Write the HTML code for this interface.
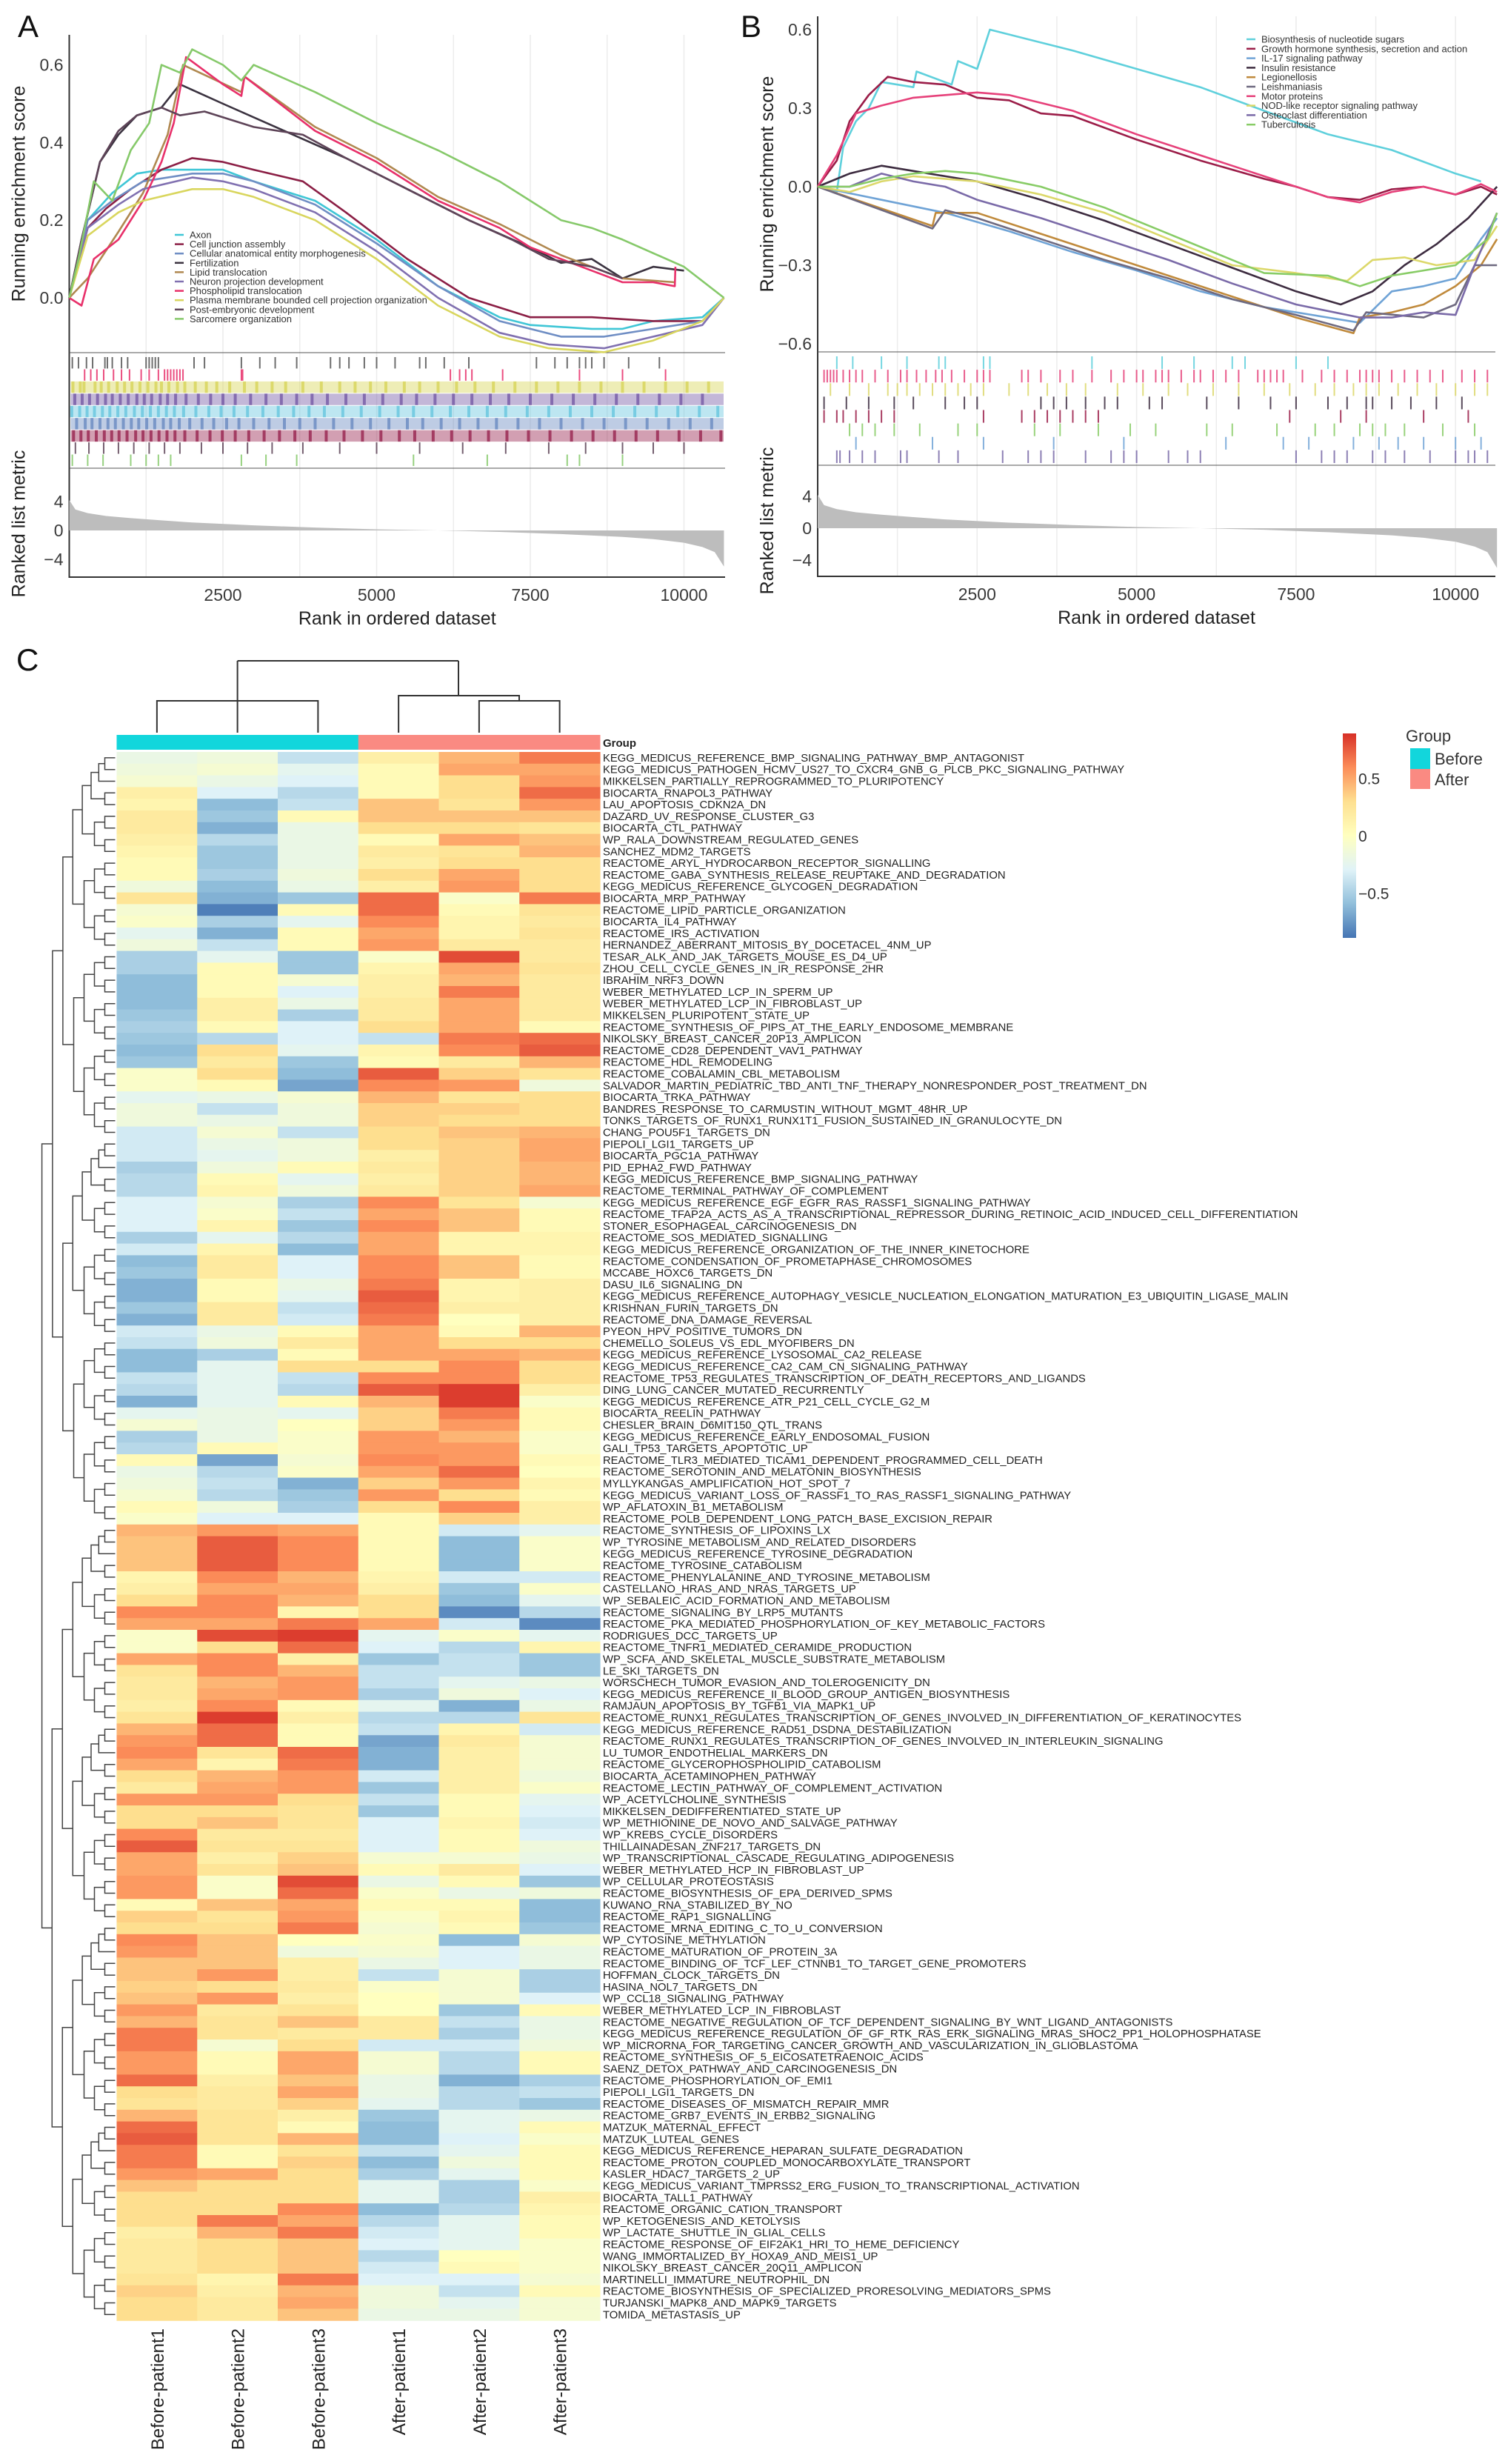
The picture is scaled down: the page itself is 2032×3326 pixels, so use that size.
<!DOCTYPE html>
<html><head><meta charset="utf-8"><style>
html,body{margin:0;padding:0;background:#fff;}
svg{display:block;font-family:"Liberation Sans",Arial,sans-serif;}
</style></head>
<body>
<svg id="fig" xmlns="http://www.w3.org/2000/svg" width="2032" height="3326" viewBox="0 0 2032 3326">
<defs>
<linearGradient id="cbgrad" x1="0" y1="1" x2="0" y2="0">
<stop offset="0" stop-color="#4575B4"/><stop offset="0.1667" stop-color="#91BFDB"/><stop offset="0.3333" stop-color="#E0F3F8"/><stop offset="0.5" stop-color="#FFFFBF"/><stop offset="0.6667" stop-color="#FEE090"/><stop offset="0.8333" stop-color="#FC8D59"/><stop offset="1" stop-color="#D73027"/>
</linearGradient>
</defs>
<rect x="0" y="0" width="2032" height="3326" fill="#fff"/>
<text x="24" y="50" font-size="42" fill="#111">A</text>
<text x="1000" y="50" font-size="42" fill="#111">B</text>
<text x="22" y="905" font-size="42" fill="#111">C</text>
<g id="gA"></g>
<g id="gB"></g>
<g id="gC"></g>
</svg>
<script>
// ================= DATA: Panel A =================
const aSeriesNames=["Axon","Cell junction assembly","Cellular anatomical entity morphogenesis","Fertilization","Lipid translocation","Neuron projection development","Phospholipid translocation","Plasma membrane bounded cell projection organization","Post-embryonic development","Sarcomere organization"];
const aSeriesColors=["#3fc6d6","#8b1f45","#6f8ec4","#3b3340","#b08850","#8070b0","#e8306a","#d9d65e","#5e4458","#86c96a"];
const aRanks=[
[0,300,700,1100,1500,2000,2500,3000,4000,5000,6000,7000,7500,8500,9000,9500,10300,10650],
[0,300,600,1000,1500,2000,2500,3000,3800,4500,5500,6500,7500,8500,9500,10300,10650],
[0,300,700,1200,2000,2500,3000,4000,5000,6000,7000,8000,8700,9500,10300,10650],
[0,200,500,800,1100,1500,1800,2500,3500,4500,5500,6500,7500,8000,8500,9000,9500,10000],
[0,300,800,1200,1600,1850,2800,2850,4000,5000,6000,7000,8000,9000,9850],
[0,300,800,1200,2000,2500,3000,4000,5000,6000,7000,7800,8700,9500,10300,10650],
[0,200,400,800,1200,1500,1700,1900,2500,2800,2850,4000,5000,6000,7000,7500,8000,8500,9000,9500,9850,9860],
[0,300,800,1200,2000,2500,3000,4000,5000,6000,7000,7800,8700,9500,10300,10650],
[0,200,500,800,1100,1500,1800,2200,3000,3800,4500,5500,6500,7200,7800,8500,9000],
[0,150,400,700,1000,1300,1500,1800,2000,2500,2800,3000,4000,5000,6000,7000,7500,8000,8500,9000,10000,10650]
];
const aScores=[
[0,0.2,0.27,0.32,0.33,0.33,0.33,0.3,0.25,0.15,0.03,-0.05,-0.07,-0.08,-0.08,-0.06,-0.05,0],
[0,0.18,0.23,0.28,0.33,0.36,0.35,0.33,0.3,0.22,0.1,0,-0.05,-0.05,-0.06,-0.06,0],
[0,0.2,0.25,0.3,0.32,0.32,0.3,0.24,0.14,0.03,-0.06,-0.1,-0.1,-0.08,-0.06,0],
[0,0.15,0.35,0.42,0.47,0.49,0.55,0.5,0.43,0.36,0.28,0.2,0.13,0.09,0.1,0.05,0.08,0.07],
[0,0.05,0.17,0.27,0.42,0.6,0.53,0.57,0.44,0.36,0.26,0.19,0.11,0.05,0.04],
[0,0.18,0.24,0.28,0.31,0.3,0.28,0.22,0.12,0,-0.09,-0.12,-0.13,-0.1,-0.07,0],
[0,-0.02,0.1,0.15,0.25,0.35,0.45,0.62,0.55,0.52,0.57,0.43,0.35,0.25,0.18,0.13,0.1,0.07,0.04,0.04,0.03,0.08],
[0,0.16,0.22,0.25,0.28,0.28,0.26,0.2,0.1,-0.02,-0.1,-0.13,-0.14,-0.11,-0.06,0],
[0,0.15,0.35,0.43,0.47,0.49,0.47,0.48,0.44,0.42,0.36,0.28,0.2,0.15,0.1,0.08,0.05],
[0,0.1,0.3,0.25,0.38,0.45,0.6,0.58,0.64,0.6,0.56,0.6,0.53,0.45,0.38,0.3,0.25,0.2,0.18,0.15,0.08,0]
];
const aEsTicks=[0,0.2,0.4,0.6];
const aEsTickLabels=["0.0","0.2","0.4","0.6"];
const aRugColors=["#555","#e8306a","#d9d65e","#7a5fa8","#6cc8e0","#6f8ec4","#9b2b55","#5e4458","#86c96a"];
const aRugDense=[false,false,true,true,true,true,true,false,false];
const aRugHits=[
[50,150,280,380,580,620,700,850,950,1250,1300,1350,1400,1450,2030,2200,2800,3100,3350,3700,4250,4400,4550,4800,5000,5300,5700,5800,6100,6500,7600,7900,8100,8300,8400,8500,8700,9100,9600],
[250,350,450,560,720,850,980,1170,1300,1450,1550,1600,1650,1700,1750,1800,1850,2800,2820,6200,6350,6450,6550,7050,8300,9000,9700],
[60,180,240,420,520,640,780,900,1020,1150,1280,1410,1500,1620,1760,1880,2050,2230,2400,2610,2850,3050,3300,3520,3800,4100,4400,4650,4900,5150,5450,5700,6000,6300,6600,6900,7250,7600,7950,8300,8650,9000,9350,9700,10050,10400],
[90,210,330,460,590,700,830,960,1100,1220,1340,1480,1600,1730,1900,2100,2300,2500,2700,2950,3200,3450,3700,3950,4200,4500,4800,5100,5400,5650,5950,6250,6550,6850,7150,7500,7850,8200,8550,8900,9250,9600,9950,10300],
[40,170,290,410,540,660,790,920,1060,1190,1320,1450,1580,1710,1860,2060,2270,2470,2680,2900,3150,3400,3650,3900,4150,4450,4750,5050,5350,5600,5900,6200,6500,6800,7100,7450,7800,8150,8500,8850,9200,9550,9900,10250,10550],
[120,260,370,500,630,750,880,1010,1130,1260,1390,1530,1650,1790,1960,2160,2350,2560,2760,3000,3250,3500,3750,4000,4300,4600,4900,5200,5500,5750,6050,6350,6650,6950,7300,7650,8000,8350,8700,9050,9400,9750,10100,10450],
[70,190,310,440,570,690,810,940,1080,1200,1330,1460,1590,1720,1880,2080,2290,2490,2700,2920,3170,3420,3670,3920,4180,4470,4770,5070,5370,5620,5920,6220,6520,6820,7120,7470,7820,8170,8520,8870,9220,9570,9920,10270,10600],
[100,320,560,800,1050,1300,1550,1800,2150,2500,2900,3300,3800,4400,5000,5700,6400,7100,7800,8400,9000,9500,10000],
[50,300,550,1000,1250,1450,1650,2800,3200,3700,5600,6800,8100,8300,9000]
];
// ================= DATA: Panel B =================
const bSeriesNames=["Biosynthesis of nucleotide sugars","Growth hormone synthesis, secretion and action","IL-17 signaling pathway","Insulin resistance","Legionellosis","Leishmaniasis","Motor proteins","NOD-like receptor signaling pathway","Osteoclast differentiation","Tuberculosis"];
const bSeriesColors=["#5fd0dc","#9b1d48","#6fa3d6","#3d2c40","#c08a3c","#6f6a80","#e6417a","#dcd86a","#7a6aa8","#88cc66"];
const bRanks=[
[0,300,400,600,800,1000,1500,1550,2100,2200,2500,2700,4000,5000,6000,7000,8000,9000,10000,10400],
[0,300,500,800,1100,1500,2000,2500,3000,3500,4000,5000,6000,7000,7500,8000,8500,9000,9500,10000,10400,10650],
[0,600,1000,2000,3000,4000,5000,6000,7000,8000,8500,9000,9500,10000,10400,10650],
[0,500,1000,1500,2000,2500,3500,4500,5500,6500,7500,8200,8700,9200,9700,10200,10650],
[0,1800,1850,2500,3500,4500,5500,6500,7500,8400,8500,9000,9500,10000,10400,10650],
[0,1800,2000,2500,3500,4500,5500,6500,7500,8400,8600,9500,10000,10300,10650],
[0,300,600,1000,1500,2000,2500,3000,3500,4000,5000,6000,7000,8000,8500,9000,9500,10000,10400,10650],
[0,500,1000,1500,2000,2500,3500,4500,5500,6500,7500,8300,8700,9200,9700,10300,10650],
[0,500,1000,1500,2000,2500,3500,4500,5500,6500,7500,8500,9000,9500,10000,10300,10650],
[0,500,1000,1500,2000,2500,3500,4500,5500,6500,7000,8000,8500,9000,9500,10000,10500,10650]
];
const bScores=[
[0,-0.02,0.15,0.25,0.3,0.4,0.38,0.44,0.39,0.48,0.45,0.6,0.52,0.45,0.38,0.29,0.2,0.14,0.05,0.02],
[0,0.1,0.25,0.35,0.42,0.4,0.39,0.34,0.33,0.28,0.27,0.18,0.1,0.03,0,-0.04,-0.05,-0.01,0,-0.03,0,-0.03],
[0,-0.03,-0.05,-0.1,-0.17,-0.25,-0.32,-0.4,-0.46,-0.5,-0.52,-0.4,-0.38,-0.35,-0.2,-0.12],
[0,0.05,0.08,0.06,0.04,0.02,-0.05,-0.13,-0.22,-0.31,-0.4,-0.45,-0.4,-0.3,-0.22,-0.12,0],
[0,-0.15,-0.1,-0.1,-0.18,-0.26,-0.34,-0.42,-0.5,-0.56,-0.5,-0.48,-0.45,-0.38,-0.3,-0.2],
[0,-0.16,-0.09,-0.12,-0.2,-0.28,-0.35,-0.43,-0.49,-0.55,-0.48,-0.5,-0.45,-0.3,-0.3],
[0,0.12,0.28,0.31,0.34,0.35,0.36,0.35,0.32,0.29,0.2,0.12,0.04,-0.04,-0.06,-0.02,0,-0.03,0.01,-0.02],
[0,-0.02,0.02,0.04,0.03,0.02,-0.03,-0.1,-0.2,-0.3,-0.33,-0.36,-0.28,-0.27,-0.3,-0.28,-0.15],
[0,0,0.05,0.02,0,-0.05,-0.12,-0.2,-0.28,-0.37,-0.45,-0.5,-0.5,-0.48,-0.49,-0.3,-0.1],
[0,0,0.03,0.05,0.06,0.05,0,-0.08,-0.18,-0.28,-0.33,-0.34,-0.38,-0.34,-0.32,-0.3,-0.2,-0.1]
];
const bEsTicks=[-0.6,-0.3,0,0.3,0.6];
const bEsTickLabels=["\u22120.6","\u22120.3","0.0","0.3","0.6"];
const bRugColors=["#5fd0dc","#e6417a","#dcd86a","#3d2c40","#9b1d48","#88cc66","#6fa3d6","#7a6aa8"];
const bRugDense=[false,false,false,false,false,false,false,false];
const bRugHits=[
[300,550,1000,1400,1900,2000,2600,2700,4300,5400,5900,6500,6700,7500,8000],
[100,150,200,250,300,400,500,600,700,900,1100,1300,1400,1550,1700,1850,1950,2100,2300,2500,2600,2700,3200,3300,3500,3800,4000,4300,4600,4800,5000,5100,5300,5400,5500,5700,5900,6000,6200,6400,6600,6900,7000,7100,7200,7300,7600,7900,8100,8300,8500,8600,8700,8800,9000,9200,9400,9600,9800,10100,10300,10500],
[200,500,800,1100,1250,1400,1600,1800,2000,2200,2400,2600,3000,3300,3600,3900,4200,4700,5100,5500,5800,6200,6600,7000,7400,7800,8100,8400,8600,8800,9100,9400,9700,10000,10300,10500],
[100,450,800,1200,1500,2000,2300,2500,3500,3700,3900,4200,4500,4700,5200,5400,6100,6600,7100,7500,8000,8300,8600,8700,9000,9300,9700,10100],
[100,300,400,600,800,1000,1200,2600,3200,3400,3600,3800,4000,4200,4400,7400,8200,8600,9500,10200],
[500,700,900,1200,1600,2200,2500,3400,3800,4400,4900,5300,6100,6500,7200,7800,8100,8500,8700,8900,9200,9800,10300],
[600,1800,2600,3700,4800,6400,7300,7700,8400,8800,9100,9500,10000,10400],
[300,350,500,700,900,1300,1400,1900,2200,2900,3300,3500,3700,4200,4600,4800,5000,5500,5800,6000,7500,7900,8100,8300,8700,8900,9200,9600,10000,10200,10300,10500]
];
const metricRanks=[0,100,300,600,1000,1500,2000,3000,4000,5000,6000,7000,8000,9000,9500,10000,10300,10500,10650];
const metricValues=[4.2,2.9,2.4,2.0,1.7,1.4,1.1,0.7,0.4,0.15,0,-0.2,-0.5,-0.9,-1.2,-1.7,-2.3,-3,-5];
const metricTicks=[-4,0,4];
const metricTickLabels=["\u22124","0","4"];
const rankTicks=[2500,5000,7500,10000];
const rankTickLabels=["2500","5000","7500","10000"];

// ================= DATA: Panel C heatmap =================
const colLabels=["Before-patient1","Before-patient2","Before-patient3","After-patient1","After-patient2","After-patient3"];
const colGroups=["Before","Before","Before","After","After","After"];
const rowLabels=["KEGG_MEDICUS_REFERENCE_BMP_SIGNALING_PATHWAY_BMP_ANTAGONIST","KEGG_MEDICUS_PATHOGEN_HCMV_US27_TO_CXCR4_GNB_G_PLCB_PKC_SIGNALING_PATHWAY","MIKKELSEN_PARTIALLY_REPROGRAMMED_TO_PLURIPOTENCY","BIOCARTA_RNAPOL3_PATHWAY","LAU_APOPTOSIS_CDKN2A_DN","DAZARD_UV_RESPONSE_CLUSTER_G3","BIOCARTA_CTL_PATHWAY","WP_RALA_DOWNSTREAM_REGULATED_GENES","SANCHEZ_MDM2_TARGETS","REACTOME_ARYL_HYDROCARBON_RECEPTOR_SIGNALLING","REACTOME_GABA_SYNTHESIS_RELEASE_REUPTAKE_AND_DEGRADATION","KEGG_MEDICUS_REFERENCE_GLYCOGEN_DEGRADATION","BIOCARTA_MRP_PATHWAY","REACTOME_LIPID_PARTICLE_ORGANIZATION","BIOCARTA_IL4_PATHWAY","REACTOME_IRS_ACTIVATION","HERNANDEZ_ABERRANT_MITOSIS_BY_DOCETACEL_4NM_UP","TESAR_ALK_AND_JAK_TARGETS_MOUSE_ES_D4_UP","ZHOU_CELL_CYCLE_GENES_IN_IR_RESPONSE_2HR","IBRAHIM_NRF3_DOWN","WEBER_METHYLATED_LCP_IN_SPERM_UP","WEBER_METHYLATED_LCP_IN_FIBROBLAST_UP","MIKKELSEN_PLURIPOTENT_STATE_UP","REACTOME_SYNTHESIS_OF_PIPS_AT_THE_EARLY_ENDOSOME_MEMBRANE","NIKOLSKY_BREAST_CANCER_20P13_AMPLICON","REACTOME_CD28_DEPENDENT_VAV1_PATHWAY","REACTOME_HDL_REMODELING","REACTOME_COBALAMIN_CBL_METABOLISM","SALVADOR_MARTIN_PEDIATRIC_TBD_ANTI_TNF_THERAPY_NONRESPONDER_POST_TREATMENT_DN","BIOCARTA_TRKA_PATHWAY","BANDRES_RESPONSE_TO_CARMUSTIN_WITHOUT_MGMT_48HR_UP","TONKS_TARGETS_OF_RUNX1_RUNX1T1_FUSION_SUSTAINED_IN_GRANULOCYTE_DN","CHANG_POU5F1_TARGETS_DN","PIEPOLI_LGI1_TARGETS_UP","BIOCARTA_PGC1A_PATHWAY","PID_EPHA2_FWD_PATHWAY","KEGG_MEDICUS_REFERENCE_BMP_SIGNALING_PATHWAY","REACTOME_TERMINAL_PATHWAY_OF_COMPLEMENT","KEGG_MEDICUS_REFERENCE_EGF_EGFR_RAS_RASSF1_SIGNALING_PATHWAY","REACTOME_TFAP2A_ACTS_AS_A_TRANSCRIPTIONAL_REPRESSOR_DURING_RETINOIC_ACID_INDUCED_CELL_DIFFERENTIATION","STONER_ESOPHAGEAL_CARCINOGENESIS_DN","REACTOME_SOS_MEDIATED_SIGNALLING","KEGG_MEDICUS_REFERENCE_ORGANIZATION_OF_THE_INNER_KINETOCHORE","REACTOME_CONDENSATION_OF_PROMETAPHASE_CHROMOSOMES","MCCABE_HOXC6_TARGETS_DN","DASU_IL6_SIGNALING_DN","KEGG_MEDICUS_REFERENCE_AUTOPHAGY_VESICLE_NUCLEATION_ELONGATION_MATURATION_E3_UBIQUITIN_LIGASE_MALIN","KRISHNAN_FURIN_TARGETS_DN","REACTOME_DNA_DAMAGE_REVERSAL","PYEON_HPV_POSITIVE_TUMORS_DN","CHEMELLO_SOLEUS_VS_EDL_MYOFIBERS_DN","KEGG_MEDICUS_REFERENCE_LYSOSOMAL_CA2_RELEASE","KEGG_MEDICUS_REFERENCE_CA2_CAM_CN_SIGNALING_PATHWAY","REACTOME_TP53_REGULATES_TRANSCRIPTION_OF_DEATH_RECEPTORS_AND_LIGANDS","DING_LUNG_CANCER_MUTATED_RECURRENTLY","KEGG_MEDICUS_REFERENCE_ATR_P21_CELL_CYCLE_G2_M","BIOCARTA_REELIN_PATHWAY","CHESLER_BRAIN_D6MIT150_QTL_TRANS","KEGG_MEDICUS_REFERENCE_EARLY_ENDOSOMAL_FUSION","GALI_TP53_TARGETS_APOPTOTIC_UP","REACTOME_TLR3_MEDIATED_TICAM1_DEPENDENT_PROGRAMMED_CELL_DEATH","REACTOME_SEROTONIN_AND_MELATONIN_BIOSYNTHESIS","MYLLYKANGAS_AMPLIFICATION_HOT_SPOT_7","KEGG_MEDICUS_VARIANT_LOSS_OF_RASSF1_TO_RAS_RASSF1_SIGNALING_PATHWAY","WP_AFLATOXIN_B1_METABOLISM","REACTOME_POLB_DEPENDENT_LONG_PATCH_BASE_EXCISION_REPAIR","REACTOME_SYNTHESIS_OF_LIPOXINS_LX","WP_TYROSINE_METABOLISM_AND_RELATED_DISORDERS","KEGG_MEDICUS_REFERENCE_TYROSINE_DEGRADATION","REACTOME_TYROSINE_CATABOLISM","REACTOME_PHENYLALANINE_AND_TYROSINE_METABOLISM","CASTELLANO_HRAS_AND_NRAS_TARGETS_UP","WP_SEBALEIC_ACID_FORMATION_AND_METABOLISM","REACTOME_SIGNALING_BY_LRP5_MUTANTS","REACTOME_PKA_MEDIATED_PHOSPHORYLATION_OF_KEY_METABOLIC_FACTORS","RODRIGUES_DCC_TARGETS_UP","REACTOME_TNFR1_MEDIATED_CERAMIDE_PRODUCTION","WP_SCFA_AND_SKELETAL_MUSCLE_SUBSTRATE_METABOLISM","LE_SKI_TARGETS_DN","WORSCHECH_TUMOR_EVASION_AND_TOLEROGENICITY_DN","KEGG_MEDICUS_REFERENCE_II_BLOOD_GROUP_ANTIGEN_BIOSYNTHESIS","RAMJAUN_APOPTOSIS_BY_TGFB1_VIA_MAPK1_UP","REACTOME_RUNX1_REGULATES_TRANSCRIPTION_OF_GENES_INVOLVED_IN_DIFFERENTIATION_OF_KERATINOCYTES","KEGG_MEDICUS_REFERENCE_RAD51_DSDNA_DESTABILIZATION","REACTOME_RUNX1_REGULATES_TRANSCRIPTION_OF_GENES_INVOLVED_IN_INTERLEUKIN_SIGNALING","LU_TUMOR_ENDOTHELIAL_MARKERS_DN","REACTOME_GLYCEROPHOSPHOLIPID_CATABOLISM","BIOCARTA_ACETAMINOPHEN_PATHWAY","REACTOME_LECTIN_PATHWAY_OF_COMPLEMENT_ACTIVATION","WP_ACETYLCHOLINE_SYNTHESIS","MIKKELSEN_DEDIFFERENTIATED_STATE_UP","WP_METHIONINE_DE_NOVO_AND_SALVAGE_PATHWAY","WP_KREBS_CYCLE_DISORDERS","THILLAINADESAN_ZNF217_TARGETS_DN","WP_TRANSCRIPTIONAL_CASCADE_REGULATING_ADIPOGENESIS","WEBER_METHYLATED_HCP_IN_FIBROBLAST_UP","WP_CELLULAR_PROTEOSTASIS","REACTOME_BIOSYNTHESIS_OF_EPA_DERIVED_SPMS","KUWANO_RNA_STABILIZED_BY_NO","REACTOME_RAP1_SIGNALLING","REACTOME_MRNA_EDITING_C_TO_U_CONVERSION","WP_CYTOSINE_METHYLATION","REACTOME_MATURATION_OF_PROTEIN_3A","REACTOME_BINDING_OF_TCF_LEF_CTNNB1_TO_TARGET_GENE_PROMOTERS","HOFFMAN_CLOCK_TARGETS_DN","HASINA_NOL7_TARGETS_DN","WP_CCL18_SIGNALING_PATHWAY","WEBER_METHYLATED_LCP_IN_FIBROBLAST","REACTOME_NEGATIVE_REGULATION_OF_TCF_DEPENDENT_SIGNALING_BY_WNT_LIGAND_ANTAGONISTS","KEGG_MEDICUS_REFERENCE_REGULATION_OF_GF_RTK_RAS_ERK_SIGNALING_MRAS_SHOC2_PP1_HOLOPHOSPHATASE","WP_MICRORNA_FOR_TARGETING_CANCER_GROWTH_AND_VASCULARIZATION_IN_GLIOBLASTOMA","REACTOME_SYNTHESIS_OF_5_EICOSATETRAENOIC_ACIDS","SAENZ_DETOX_PATHWAY_AND_CARCINOGENESIS_DN","REACTOME_PHOSPHORYLATION_OF_EMI1","PIEPOLI_LGI1_TARGETS_DN","REACTOME_DISEASES_OF_MISMATCH_REPAIR_MMR","REACTOME_GRB7_EVENTS_IN_ERBB2_SIGNALING","MATZUK_MATERNAL_EFFECT","MATZUK_LUTEAL_GENES","KEGG_MEDICUS_REFERENCE_HEPARAN_SULFATE_DEGRADATION","REACTOME_PROTON_COUPLED_MONOCARBOXYLATE_TRANSPORT","KASLER_HDAC7_TARGETS_2_UP","KEGG_MEDICUS_VARIANT_TMPRSS2_ERG_FUSION_TO_TRANSCRIPTIONAL_ACTIVATION","BIOCARTA_TALL1_PATHWAY","REACTOME_ORGANIC_CATION_TRANSPORT","WP_KETOGENESIS_AND_KETOLYSIS","WP_LACTATE_SHUTTLE_IN_GLIAL_CELLS","REACTOME_RESPONSE_OF_EIF2AK1_HRI_TO_HEME_DEFICIENCY","WANG_IMMORTALIZED_BY_HOXA9_AND_MEIS1_UP","NIKOLSKY_BREAST_CANCER_20Q11_AMPLICON","MARTINELLI_IMMATURE_NEUTROPHIL_DN","REACTOME_BIOSYNTHESIS_OF_SPECIALIZED_PRORESOLVING_MEDIATORS_SPMS","TURJANSKI_MAPK8_AND_MAPK9_TARGETS","TOMIDA_METASTASIS_UP"];
const heatmapValues=[
[-0.2,-0.15,-0.4,0.15,0.45,0.65],[-0.15,-0.1,-0.25,0.05,0.5,0.5],[-0.1,-0.2,-0.3,0.05,0.3,0.55],[0.15,-0.3,-0.45,0.05,0.3,0.7],[0.1,-0.6,-0.4,0.4,0.25,0.55],[0.2,-0.55,0.05,0.4,0.4,0.4],[0.2,-0.65,-0.2,0.3,0.3,0.25],[0.15,-0.45,-0.2,0.05,0.5,0.4],[0.1,-0.55,-0.2,0.2,0.25,0.45],[0.05,-0.55,-0.2,0.15,0.3,0.3],
[0.05,-0.5,-0.15,0.3,0.5,0.3],[-0.15,-0.6,-0.2,0.15,0.55,0.3],[0.25,-0.65,-0.55,0.7,-0.05,0.65],[-0.1,-0.85,0.05,0.7,0.05,0.25],[-0.05,-0.5,-0.25,0.6,0.1,0.2],[-0.25,-0.65,0.05,0.5,0.1,0.25],[-0.15,-0.4,0.05,0.55,0.2,0.2],[-0.5,-0.25,-0.55,-0.05,0.8,0.2],[-0.5,0.05,-0.55,0.1,0.5,0.25],[-0.6,0.05,-0.1,0.15,0.45,0.2],
[-0.6,0.05,-0.3,0.15,0.65,0.2],[-0.6,0.15,-0.2,0.2,0.5,0.2],[-0.55,0.15,-0.5,0.2,0.5,0.2],[-0.5,0.05,-0.3,0.3,0.5,0.05],[-0.55,-0.45,-0.3,-0.4,0.65,0.7],[-0.6,0.3,-0.25,0.1,0.6,0.75],[-0.55,0.2,-0.55,0.05,0.2,0.45],[-0.05,0.3,-0.6,0.75,0.35,0.25],[-0.05,0.05,-0.7,0.6,0.55,-0.15],[-0.25,-0.2,-0.1,0.45,0.25,0.3],
[-0.15,-0.4,-0.15,0.35,0.35,0.3],[-0.15,-0.2,-0.15,0.35,0.3,0.3],[-0.35,-0.1,-0.4,0.3,0.4,0.45],[-0.35,-0.2,-0.15,0.3,0.35,0.5],[-0.35,-0.25,-0.15,0.15,0.35,0.5],[-0.5,-0.15,0.05,0.2,0.35,0.45],[-0.45,0.05,-0.25,0.15,0.35,0.45],[-0.45,0.1,-0.15,0.2,0.35,0.5],[-0.3,-0.1,-0.5,0.6,0.25,-0.1],[-0.3,-0.05,-0.4,0.5,0.4,0.05],
[-0.3,0.1,-0.55,0.6,0.4,0.05],[-0.5,-0.25,-0.45,0.5,0.1,0.1],[-0.35,0.1,-0.6,0.5,0.1,0.1],[-0.6,0.2,-0.3,0.6,0.4,0.05],[-0.55,0.2,-0.3,0.6,0.4,0.05],[-0.65,0.05,-0.2,0.65,0.1,0.15],[-0.65,0.05,-0.25,0.75,0.1,0.15],[-0.55,0.2,-0.4,0.7,0.15,0.15],[-0.65,0.2,-0.35,0.65,0,0.15],[-0.35,-0.2,0.05,0.5,0.05,0.45],
[-0.4,-0.15,0.2,0.5,0.3,0.3],[-0.6,-0.5,0.05,0.5,0.5,0.45],[-0.6,-0.25,0.3,0.3,0.6,0.3],[-0.4,-0.25,-0.4,0.6,0.6,0.3],[-0.45,-0.25,-0.45,0.75,0.85,0.15],[-0.65,-0.25,0.05,0.45,0.85,-0.05],[-0.25,-0.2,-0.25,0.35,0.65,0.05],[-0.1,-0.2,0,0.35,0.55,0.05],[-0.5,-0.2,-0.05,0.55,0.45,-0.05],[-0.45,0.05,-0.05,0.55,0.55,-0.05],
[0.05,-0.7,-0.1,0.6,0.55,0.05],[-0.2,-0.45,-0.05,0.5,0.7,0],[-0.15,-0.4,-0.65,0.35,0.55,0.1],[-0.1,-0.45,-0.55,0.55,0.3,0.05],[0.05,-0.15,-0.5,0.3,0.6,0.15],[-0.05,-0.3,-0.3,0.05,0.35,0.15],[0.45,0.55,0.5,0.05,-0.35,-0.25],[0.4,0.75,0.6,0.05,-0.6,-0.05],[0.4,0.75,0.6,0.05,-0.6,-0.05],[0.4,0.75,0.6,0.05,-0.6,-0.05],
[0.1,0.6,0.45,0.1,-0.35,-0.35],[0.15,0.5,0.5,0.15,-0.55,-0.05],[0.3,0.6,0.45,0.3,-0.6,-0.25],[0.6,0.6,0.1,0.3,-0.8,-0.45],[0.5,0.5,0.65,0.5,-0.35,-0.8],[-0.05,0.8,0.85,-0.25,-0.05,-0.25],[-0.05,0.3,0.7,-0.3,-0.45,0.1],[0.5,0.6,0.15,-0.55,-0.4,-0.55],[0.25,0.6,0.45,-0.4,-0.4,-0.55],[0.2,0.45,0.55,-0.4,-0.25,-0.2],
[0.2,0.5,0.55,-0.5,-0.15,-0.3],[0.15,0.6,0.05,-0.25,-0.65,-0.2],[0.25,0.85,0.15,-0.45,-0.45,0.25],[0.45,0.7,0.05,-0.4,0.1,-0.35],[0.55,0.7,0.05,-0.7,0.2,-0.1],[0.6,0.25,0.7,-0.65,0.15,-0.1],[0.5,0.1,0.65,-0.65,0.15,-0.1],[0.3,0.45,0.55,-0.35,0.15,-0.15],[0.2,0.5,0.55,-0.55,0.15,-0.05],[0.55,0.55,0.3,-0.4,0.05,-0.25],
[0.3,0.3,0.25,-0.55,0.05,-0.3],[0.3,0.4,0.25,-0.3,0.1,-0.35],[0.6,0.2,0.2,-0.3,0.05,-0.3],[0.75,0.25,0.25,-0.3,0.05,-0.15],[0.5,0.15,0.35,-0.1,-0.1,-0.2],[0.5,0.25,0.4,0.05,0.2,-0.3],[0.55,-0.05,0.8,-0.2,0.05,-0.55],[0.55,-0.05,0.7,-0.05,-0.2,-0.15],[0.05,0.4,0.5,0.05,0.05,-0.6],[0.35,0.25,0.55,-0.05,0.1,-0.6],
[0.3,0.3,0.65,-0.1,0.05,-0.55],[0.6,0.4,0,-0.05,-0.6,-0.1],[0.55,0.4,-0.15,-0.1,-0.3,-0.2],[0.4,0.4,0.15,-0.2,-0.3,-0.2],[0.4,0.55,0.15,-0.4,-0.1,-0.5],[0.35,0.3,0.2,-0.05,-0.1,-0.5],[0.4,0.55,0.15,0,-0.1,-0.3],[0.55,0.2,0.25,0,-0.55,0.05],[0.45,0.25,0.4,0.2,-0.4,-0.2],[0.65,0.25,0.2,0.2,-0.5,-0.2],
[0.65,-0.1,0.3,-0.35,-0.35,-0.15],[0.55,0.05,0.5,-0.1,-0.45,0.05],[0.55,0.05,0.5,-0.1,-0.45,0.05],[0.7,0.15,0.4,-0.2,-0.65,-0.5],[0.3,0.2,0.5,-0.2,-0.45,-0.4],[0.25,0.2,0.35,-0.25,-0.45,-0.55],[0.45,0.25,0.15,-0.55,-0.25,-0.2],[0.7,0.25,0.05,-0.6,-0.25,0.05],[0.75,0.25,0.45,-0.6,-0.3,-0.05],[0.65,0.05,0.25,-0.4,-0.25,0.05],
[0.65,0.05,0.35,-0.6,-0.15,0.05],[0.55,0.5,0.3,-0.5,-0.25,0.05],[0.4,0.3,0.3,-0.25,-0.5,-0.05],[0.3,0.3,0.3,-0.25,-0.5,0.15],[0.3,0.3,0.6,-0.6,-0.45,0.1],[0.3,0.65,0.5,-0.45,-0.25,0.05],[0.15,0.45,0.65,-0.35,-0.25,0.05],[0.2,0.3,0.4,-0.3,-0.25,-0.05],[0.2,0.3,0.4,-0.45,0,-0.05],[0.2,0.3,0.4,-0.35,0.05,-0.05],
[0.25,0.1,0.65,-0.3,-0.3,-0.1],[0.35,0.15,0.45,-0.15,-0.4,0.05],[0.3,0.2,0.5,-0.15,-0.25,-0.1],[0.3,0.2,0.4,-0.2,-0.2,-0.1]
];
const colorbarTicks=[-0.5,0,0.5];
const colorbarTickLabels=["\u22120.5","0","0.5"];

// ================= RENDER =================
const NS='http://www.w3.org/2000/svg';
function mk(tag,attrs,parent){const e=document.createElementNS(NS,tag);for(const k in attrs)e.setAttribute(k,attrs[k]);parent.appendChild(e);return e;}
function txt(parent,x,y,s,size,extra){const t=mk('text',Object.assign({x:x,y:y,'font-size':size,fill:'#3a3a3a'},extra||{}),parent);t.textContent=s;return t;}

function drawGsea(g,cfg,ranks,scores,colors,names,esTicks,esLabels,rugHits,rugColors,rugDense){
  const xr=r=>cfg.x0+r*cfg.ppr;
  const ye=v=>cfg.esZero-v*cfg.esScale;
  const ym=v=>cfg.metZero-v*cfg.metScale;
  for(let r=1250;r<=10650;r+=1250){
    const l=mk('line',{x1:xr(r),x2:xr(r),y1:cfg.top,y2:cfg.axisY,stroke:'#ececec','stroke-width':1.5},g);
    
    
  }
  const ax=mk('path',{d:`M${cfg.x0},${cfg.top} V${cfg.axisY} H${cfg.right}`,stroke:'#333','stroke-width':2,fill:'none'},g);
  
  
  const sep1=mk('line',{x1:cfg.x0,x2:cfg.right,y1:cfg.rugTop,y2:cfg.rugTop,stroke:'#555','stroke-width':1},g);
  
  
  const sep2=mk('line',{x1:cfg.x0,x2:cfg.right,y1:cfg.rugBot,y2:cfg.rugBot,stroke:'#555','stroke-width':1},g);
  
  
  esTicks.forEach((v,i)=>{
    const t=txt(g,cfg.x0-8,ye(v)+8,esLabels[i],23,{'text-anchor':'end'});
    
    
  });
  metricTicks.forEach((v,i)=>{
    const t=txt(g,cfg.x0-8,ym(v)+8,metricTickLabels[i],23,{'text-anchor':'end'});
    
    
  });
  rankTicks.forEach((v,i)=>{
    const t=txt(g,xr(v),cfg.axisY+32,rankTickLabels[i],23,{'text-anchor':'middle'});
    
    
  });
  const xt=txt(g,(cfg.x0+cfg.right)/2,cfg.axisY+64,'Rank in ordered dataset',25,{'text-anchor':'middle',fill:'#222'});
  
  
  const yt=txt(g,0,0,'Running enrichment score',25,{'text-anchor':'middle',fill:'#222',transform:`translate(${cfg.x0-60},${(cfg.top+cfg.rugTop)/2}) rotate(-90)`});
  
  
  const yt2=txt(g,0,0,'Ranked list metric',25,{'text-anchor':'middle',fill:'#222',transform:`translate(${cfg.x0-60},${cfg.rugBot+75}) rotate(-90)`});
  
  
  let d=`M${xr(metricRanks[0])},${ym(0)}`;
  metricRanks.forEach((r,i)=>{d+=` L${xr(r)},${ym(metricValues[i])}`;});
  d+=` L${xr(metricRanks[metricRanks.length-1])},${ym(0)} Z`;
  const ar=mk('path',{d:d,fill:'#bdbdbd',stroke:'none'},g);
  
  
  const nRows=rugHits.length;
  const rh=(cfg.rugBot-cfg.rugTop-8)/nRows;
  rugHits.forEach((hits,ri)=>{
    const y0=cfg.rugTop+6+ri*rh;
    if(rugDense[ri]){
      const b=mk('rect',{x:cfg.x0+2,y:y0,width:cfg.right-cfg.x0-4,height:rh-1,fill:rugColors[ri],opacity:0.45},g);
      
      
    }
    hits.forEach(h=>{
      const l=mk('line',{x1:xr(h),x2:xr(h),y1:y0,y2:y0+rh-1,stroke:rugColors[ri],'stroke-width':rugDense[ri]?4:2,opacity:0.85},g);
      
      
    });
  });
  ranks.forEach((rs,si)=>{
    const pts=rs.map((r,i)=>`${xr(r).toFixed(1)},${ye(scores[si][i]).toFixed(1)}`).join(' ');
    const pl=mk('polyline',{points:pts,fill:'none',stroke:colors[si],'stroke-width':2.6,'stroke-linejoin':'round'},g);
    
    
  });
  names.forEach((n,i)=>{
    const y=cfg.legY+i*cfg.legDy;
    const l=mk('line',{x1:cfg.legX,x2:cfg.legX+12,y1:y,y2:y,stroke:colors[i],'stroke-width':2.5},g);
    
    
    const t=txt(g,cfg.legX+20,y+4.5,n,13,{fill:'#333'});
    
    
  });
}

const gA=document.getElementById('gA');
drawGsea(gA,{x0:93.5,ppr:207.5/2500,top:47,esZero:402,esScale:524,rugTop:476,rugBot:632,metZero:716,metScale:9.75,axisY:779,right:979,legX:236,legY:317,legDy:12.6},aRanks,aScores,aSeriesColors,aSeriesNames,aEsTicks,aEsTickLabels,aRugHits,aRugColors,aRugDense);
const gB=document.getElementById('gB');
drawGsea(gB,{x0:1104,ppr:215.3/2500,top:22,esZero:252,esScale:353.3,rugTop:475,rugBot:628,metZero:713,metScale:10.75,axisY:778,right:2019,legX:1683,legY:53,legDy:12.8},bRanks,bScores,bSeriesColors,bSeriesNames,bEsTicks,bEsTickLabels,bRugHits,bRugColors,bRugDense);

const gC=document.getElementById('gC');
const hmLeft=157.5, hmRight=810, hmTop=1015, rowH=15.8;
const colW=(hmRight-hmLeft)/colLabels.length;
const vmin=-0.89, vmax=0.89;
const pal=['#4575B4','#91BFDB','#E0F3F8','#FFFFBF','#FEE090','#FC8D59','#D73027'];
function hex(c){return [parseInt(c.substr(1,2),16),parseInt(c.substr(3,2),16),parseInt(c.substr(5,2),16)];}
function colorOf(v){
  let t=(v-vmin)/(vmax-vmin); t=Math.max(0,Math.min(1,t));
  const p=t*(pal.length-1); const i=Math.min(pal.length-2,Math.floor(p)); const f=p-i;
  const a=hex(pal[i]),b=hex(pal[i+1]);
  return `rgb(${Math.round(a[0]+(b[0]-a[0])*f)},${Math.round(a[1]+(b[1]-a[1])*f)},${Math.round(a[2]+(b[2]-a[2])*f)})`;
}
const xc=j=>hmLeft+j*colW;
const yr=i=>hmTop+i*rowH;
heatmapValues.forEach((row,i)=>{
  row.forEach((v,j)=>{
    const r=mk('rect',{x:xc(j).toFixed(2),y:yr(i).toFixed(2),width:(colW+0.6).toFixed(2),height:(rowH+0.6).toFixed(2),fill:colorOf(v)},gC);
    
    
  });
  const t=txt(gC,814,yr(i)+rowH/2+5,rowLabels[i],14.8,{fill:'#222'});
  
  
});
colGroups.forEach((gname,j)=>{
  const r=mk('rect',{x:xc(j),y:992,width:colW+0.5,height:20,fill:gname==='Before'?'#12d6dc':'#fa8a82'},gC);
  
  
});
const gl=txt(gC,814,1008,'Group',15,{'font-weight':'bold',fill:'#222'});


colLabels.forEach((c,j)=>{
  const cx=xc(j)+colW/2;
  const t=txt(gC,0,0,c,24,{'text-anchor':'end',fill:'#222',transform:`translate(${cx+9},3143) rotate(-90)`});
  
  
});
const cc=j=>xc(j)+colW/2;
const cd=`M${cc(0)},989 V946 H${cc(2)} V989 M${cc(1)},989 V892 M${cc(4)},989 V946 H${cc(5)} V989 M${cc(3)},989 V939 H701 V946 M619,939 V892 M${cc(1)},892 H619`;
const cdp=mk('path',{d:cd,stroke:'#333','stroke-width':2,fill:'none'},gC);


let rd='';
function tree(s,e){
  if(s===e) return {y:yr(s)+rowH/2,x:hmLeft-2};
  const n=e-s+1;
  const mid=(s===0&&e===heatmapValues.length-1)?65:Math.floor((s+e)/2);
  const L=tree(s,mid), R=tree(mid+1,e);
  const x=hmLeft-2-14*Math.log2(n);
  rd+=`M${L.x},${L.y} H${x} V${R.y} H${R.x} `;
  return {x:x,y:(L.y+R.y)/2};
}
tree(0,heatmapValues.length-1);
const rdp=mk('path',{d:rd,stroke:'#444','stroke-width':1.5,fill:'none'},gC);


const cb=mk('rect',{x:1813,y:990,width:18,height:276,fill:'url(#cbgrad)'},gC);


colorbarTicks.forEach((v,i)=>{
  const y=990+(vmax-v)/(vmax-vmin)*276;
  const t=txt(gC,1834,y+8,colorbarTickLabels[i],21,{fill:'#333'});
  
  
});
const lgT=txt(gC,1898,1001,'Group',22,{fill:'#333'});


const sw1=mk('rect',{x:1904,y:1010,width:27,height:28,fill:'#12d6dc'},gC);


const sw2=mk('rect',{x:1904,y:1038,width:27,height:27,fill:'#fa8a82'},gC);


const lb1=txt(gC,1937,1032,'Before',22,{fill:'#333'});


const lb2=txt(gC,1937,1060,'After',22,{fill:'#333'});


</script>
</body></html>
